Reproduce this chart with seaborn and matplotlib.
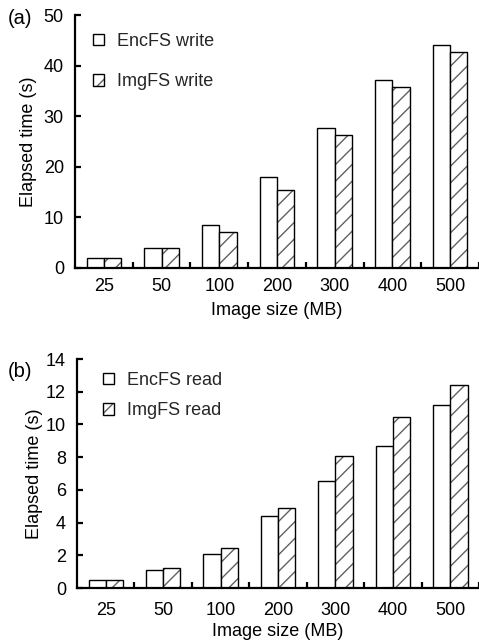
import numpy as np
import pandas as pd
import matplotlib
matplotlib.use("Agg")
import matplotlib.pyplot as plt
import matplotlib.patches as mpatches
from matplotlib.ticker import FixedLocator
import seaborn as sns

sizes = ["25", "50", "100", "200", "300", "400", "500"]
encfs_write = [2.0, 4.0, 8.4, 18.0, 27.7, 37.2, 44.0]
imgfs_write = [2.0, 4.0, 7.1, 15.4, 26.2, 35.8, 42.6]
encfs_read = [0.5, 1.12, 2.08, 4.38, 6.52, 8.66, 11.2]
imgfs_read = [0.5, 1.2, 2.43, 4.87, 8.05, 10.48, 12.39]

sns.set_theme(style="white")
plt.rcParams['font.family'] = ['Liberation Sans', 'DejaVu Sans']
plt.rcParams['hatch.linewidth'] = 1.0

fig = plt.figure(figsize=(4.79, 6.42), dpi=100)
ax_a = fig.add_axes([0.1566, 0.5826, 0.8434, 0.394])
ax_b = fig.add_axes([0.1608, 0.0841, 0.8392, 0.3567])

FS = 13
HATCH_COLOR = (0.38, 0.38, 0.38, 1.0)


def panel(ax, s1, s2, names, ymax, ystep, tag, tag_y, leg_anchor, lspace,
          ylabpad, xpad, xlabpad):
    df = pd.DataFrame({
        "size": sizes * 2,
        "time": s1 + s2,
        "series": [names[0]] * len(sizes) + [names[1]] * len(sizes),
    })
    sns.barplot(data=df, x="size", y="time", hue="series", order=sizes,
                hue_order=names, palette=["white", "white"], width=0.6,
                edgecolor="black", linewidth=1.0, ax=ax, legend=False,
                saturation=1)
    for p in ax.containers[1]:
        p.set_hatch("//")
        p._hatch_color = HATCH_COLOR
    ax.set_xlim(-0.5, 6.5)
    ax.set_ylim(0, ymax)
    ax.set_yticks(np.arange(0, ymax + 0.01, ystep))
    ax.yaxis.set_major_formatter(matplotlib.ticker.FormatStrFormatter('%d'))
    for s in ["top", "right"]:
        ax.spines[s].set_visible(False)
    for s in ["left", "bottom"]:
        ax.spines[s].set_linewidth(1.6)
        ax.spines[s].set_color("black")
    ax.tick_params(axis="y", direction="in", length=4.5, width=1.6,
                   labelsize=FS, pad=8, left=True, colors="black")
    ax.tick_params(axis="x", which="major", length=0, labelsize=FS, pad=xpad,
                   colors="black")
    ax.xaxis.set_minor_locator(FixedLocator(np.arange(0.5, 7.0, 1.0)))
    ax.tick_params(axis="x", which="minor", direction="in", length=4.5,
                   width=1.6, bottom=True, color="black")
    ax.set_xlabel("Image size (MB)", fontsize=FS, labelpad=xlabpad,
                  color="black")
    ax.set_ylabel("Elapsed time (s)", fontsize=FS, labelpad=ylabpad,
                  color="black")
    fig.text(8 / 479, tag_y, tag, fontsize=14.5, ha="left", va="center",
             color="black")
    h1 = mpatches.Patch(facecolor="white", edgecolor="black", linewidth=1.0,
                        label=names[0])
    h2 = mpatches.Patch(facecolor="white", edgecolor="black", linewidth=1.0,
                        hatch="//", label=names[1])
    h2._hatch_color = HATCH_COLOR
    ax.legend(handles=[h1, h2], loc="upper left", bbox_to_anchor=leg_anchor,
              frameon=False, fontsize=FS, handlelength=0.6, handleheight=0.6,
              handletextpad=0.75, labelspacing=lspace, borderpad=0,
              borderaxespad=0)


panel(ax_a, encfs_write, imgfs_write, ["EncFS write", "ImgFS write"],
      50, 10, "(a)", 1 - 19 / 642, (0.044, 0.93), 1.3, 5, 7, 5)
panel(ax_b, encfs_read, imgfs_read, ["EncFS read", "ImgFS read"],
      14, 2, "(b)", 1 - 372 / 642, (0.064, 0.945), 0.75, 2, 10, 3)

fig.savefig("out.png", dpi=100)
